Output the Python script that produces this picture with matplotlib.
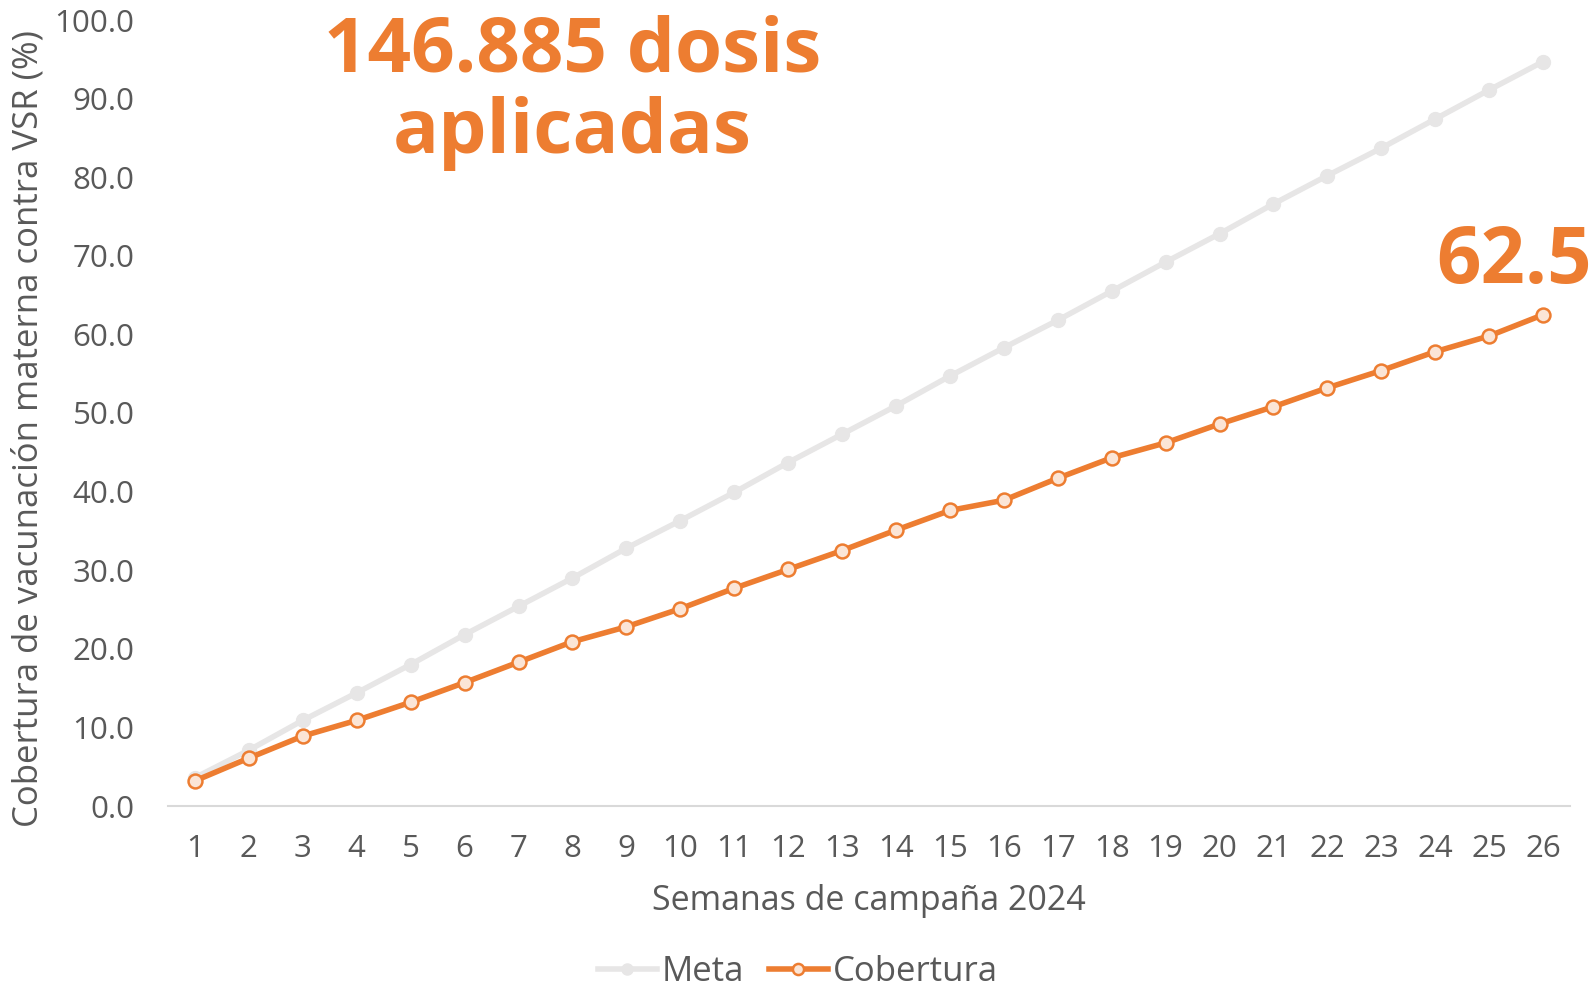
import numpy as np
import matplotlib.pyplot as plt

semanas = list(range(1, 27))
meta = [3.6, 7.1, 10.9, 14.4, 18.0, 21.8, 25.4, 29.0, 32.8, 36.3, 39.9, 43.7, 47.3,
        50.9, 54.7, 58.3, 61.8, 65.5, 69.2, 72.8, 76.6, 80.2, 83.7, 87.4, 91.1, 94.7]
cobertura = [3.2, 6.1, 8.9, 10.9, 13.2, 15.7, 18.3, 20.9, 22.8, 25.1, 27.7, 30.1, 32.5,
             35.1, 37.6, 38.9, 41.7, 44.3, 46.2, 48.6, 50.8, 53.2, 55.4, 57.8, 59.8, 62.5]
titulo = ["146.885 dosis", "aplicadas"]

naranja = "#ED7D31"
gris = "#E7E6E6"
texto = "#595959"

plt.rcParams['font.family'] = ['Open Sans', 'DejaVu Sans']

fig = plt.figure(figsize=(15.96, 9.9), dpi=100)
ax = fig.add_axes([168 / 1596, 1 - 806 / 990, 1402 / 1596, 786 / 990])

x = np.arange(len(semanas))
ax.plot(x, meta, color=gris, lw=4, marker='o', ms=10, mfc=gris, mec=gris, label="Meta")
ax.plot(x, cobertura, color=naranja, lw=4, marker='o', ms=10, mfc="#FBE5D6",
        mec=naranja, mew=1.8, label="Cobertura")

ax.set_xlim(-0.5, len(semanas) - 0.5)
ax.set_ylim(0, 100)
ax.set_xticks(x)
ax.set_xticklabels([str(s) for s in semanas])
ax.set_yticks(np.arange(0, 101, 10))
ax.set_yticklabels([f"{v:.1f}" for v in np.arange(0, 101, 10)])
ax.tick_params(axis='both', length=0, labelsize=22.5, labelcolor=texto)
ax.tick_params(axis='x', pad=20)
ax.tick_params(axis='y', pad=24)

for s in ['top', 'right', 'left']:
    ax.spines[s].set_visible(False)
ax.spines['bottom'].set_color("#D9D9D9")
ax.spines['bottom'].set_linewidth(1.5)

ax.set_xlabel("Semanas de campaña 2024", fontsize=24.5, color=texto)
ax.xaxis.set_label_coords(0.5, -0.099)
ax.set_ylabel("Cobertura de vacunación materna contra VSR (%)", fontsize=25,
              color=texto)
ax.yaxis.set_label_coords(-0.0875, 0.48)

# titulo en dos lineas, centrado sobre las primeras semanas
for linea, y in zip(titulo, [93.5, 83.1]):
    ax.text(7.0, y, linea, ha='center', va='baseline', fontsize=55,
            fontweight='bold', color=naranja, clip_on=False)
ax.annotate(f"{cobertura[-1]:.1f}", (x[-1], cobertura[-1]), xytext=(-21, 23),
            textcoords='offset points', ha='center', va='baseline', fontsize=56,
            fontweight='bold', color=naranja, annotation_clip=False)

fig.legend(*ax.get_legend_handles_labels(), loc='center',
           bbox_to_anchor=(0.5, 1 - 972 / 990), ncol=2, frameon=False,
           fontsize=25, labelcolor=texto, handlelength=1.7, handletextpad=0.15,
           columnspacing=0.7, markerscale=0.8)

fig.savefig("out.png", dpi=100)
